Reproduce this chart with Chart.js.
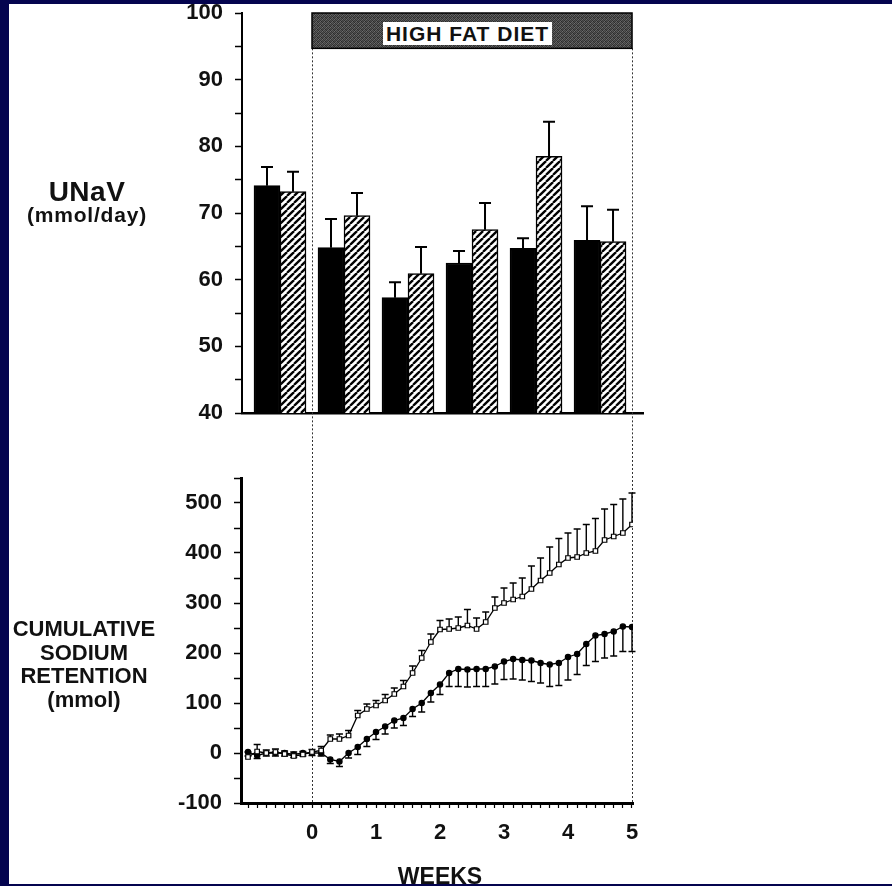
<!DOCTYPE html>
<html>
<head>
<meta charset="utf-8">
<script src="https://cdn.jsdelivr.net/npm/chart.js@4.4.1/dist/chart.umd.min.js"></script>
<style>
    body {
        margin: 0;
        width: 892px;
        height: 886px;
        overflow: hidden;
        position: relative;
        background: #04044f;
        font-family: "Liberation Sans", Arial, sans-serif;
        font-weight: bold;
        color: #111;
    }
    #panel { position: absolute; left: 9px; top: 4px; width: 883px; height: 880px; background: #fff; }
    canvas { position: absolute; left: 0; }
    .lbl { position: absolute; text-align: center; white-space: nowrap; }
    #bottomEdge { position: absolute; left: 0; top: 884px; width: 892px; height: 2px; background: #04044f; }
</style>
</head>
<body>
<div id="panel"></div>
<canvas id="unavChart" width="700" height="440" style="top:0"></canvas>
<canvas id="retentionChart" width="700" height="446" style="top:440px"></canvas>

<div class="lbl" style="left:383px;top:22px;width:169px;height:23px;line-height:23px;background:#fff;font-size:21px;letter-spacing:1px">HIGH FAT DIET</div>
<div class="lbl" style="left:22px;top:178px;width:130px;font-size:28px;line-height:28px;letter-spacing:0.5px">UNaV</div>
<div class="lbl" style="left:12px;top:204px;width:150px;font-size:21px;line-height:22px;letter-spacing:0.8px">(mmol/day)</div>
<div class="lbl" style="left:4px;top:617px;width:160px;font-size:22px;line-height:23.5px">CUMULATIVE<br>SODIUM<br>RETENTION<br>(mmol)</div>
<div class="lbl" style="left:380px;top:865px;width:120px;font-size:23px;line-height:23px">WEEKS</div>
<div id="bottomEdge"></div>

<script>
// ---- upper panel: weekly UNaV, bar centres in days (week midpoints)
const barDays = [-3.5, 3.5, 10.5, 17.5, 24.5, 31.5]
const unavSolid = [74.1, 64.8, 57.3, 62.5, 64.7, 65.9]
const unavSolidErr = [2.8, 4.3, 2.3, 1.8, 1.5, 5.1]
const unavHatched = [73.2, 69.6, 60.9, 67.5, 78.5, 65.7]
const unavHatchedErr = [3.0, 3.4, 4.0, 4.0, 5.2, 4.8]
const unavTickLabels = [40, 50, 60, 70, 80, 90, 100]

// ---- lower panel: cumulative sodium retention, one value per day
const days = [
    -7, -6, -5, -4, -3, -2, -1, 0,
    1, 2, 3, 4, 5, 6, 7, 8, 9, 10, 11, 12, 13, 14,
    15, 16, 17, 18, 19, 20, 21, 22, 23, 24, 25, 26, 27, 28,
    29, 30, 31, 32, 33, 34, 35,
]
const openRet = [
    -8, 3, 0, 2, -2, -6, -3, 2,
    5, 28, 28, 35, 75, 88, 95, 105, 118, 133, 160, 190, 222, 247,
    248, 250, 255, 248, 262, 290, 300, 307, 313, 328, 345, 360, 377, 390,
    392, 400, 404, 426, 433, 440, 457,
]
const openErr = [
    10, 14, 6, 6, 6, 8, 6, 5,
    8, 8, 10, 10, 10, 10, 10, 12, 12, 12, 14, 15, 16, 18,
    20, 22, 32, 22, 20, 22, 30, 33, 37, 46, 45, 52, 52, 50,
    56, 57, 65, 62, 64, 68, 63,
]
const filledRet = [
    2, -5, 0, 0, 0, -3, 0, 0,
    0, -13, -17, 0, 12, 28, 42, 53, 65, 70, 88, 100, 120, 137,
    160, 168, 167, 168, 168, 173, 183, 188, 186, 185, 180, 177, 180, 192,
    198, 218, 235, 238, 243, 253, 252,
]
const filledErr = [
    8, 6, 6, 6, 6, 6, 6, 5,
    6, 8, 10, 10, 15, 15, 15, 15, 15, 15, 15, 18, 18, 20,
    27, 35, 35, 35, 35, 35, 36, 40, 40, 42, 40, 44, 45, 46,
    41, 43, 52, 48, 49, 50, 49,
]
const retTickLabels = [-100, 0, 100, 200, 300, 400, 500]
const weekLabels = ["0", "1", "2", "3", "4", "5"]

// diet period (days) and the header band on the UNaV axis
const dietStart = 0
const dietEnd = 35
const bandBottom = 94.7

const FONT = { family: "'Liberation Sans', Arial, sans-serif", weight: "bold", size: 22 }

// diagonal hatch for the second bar series
const hatchPattern = () => {
    const c = document.createElement("canvas")
    c.width = c.height = 7
    const g = c.getContext("2d")
    g.fillStyle = "#fff"
    g.fillRect(0, 0, 7, 7)
    g.strokeStyle = "#000"
    g.lineWidth = 2.3
    for (let k = -1; k <= 1; k++) {
        g.beginPath()
        g.moveTo(k * 7, 7)
        g.lineTo(k * 7 + 7, 0)
        g.stroke()
    }
    return g.createPattern(c, "repeat")
}

// grey stipple for the "high fat diet" band
const stipplePattern = () => {
    const shades = [
        [50, 95, 60, 80],
        [105, 40, 75, 55],
        [65, 85, 45, 100],
        [90, 55, 110, 50],
    ]
    const c = document.createElement("canvas")
    c.width = c.height = 4
    const g = c.getContext("2d")
    shades.forEach((row, y) =>
        row.forEach((s, x) => {
            g.fillStyle = `rgb(${s},${s},${s})`
            g.fillRect(x, y, 1, 1)
        })
    )
    return g.createPattern(c, "repeat")
}

// one-sided error bars, drawn from each point along errDir
const errorBars = {
    id: "errorBars",
    beforeDatasetsDraw(chart) {
        const { ctx } = chart
        const yScale = chart.scales.y
        chart.data.datasets.forEach((ds, di) => {
            if (!ds.errors) return
            const meta = chart.getDatasetMeta(di)
            ctx.save()
            ctx.strokeStyle = "#000"
            ctx.lineWidth = ds.errWidth
            meta.data.forEach((el, i) => {
                const yEnd = yScale.getPixelForValue(ds.data[i].y + ds.errDir * ds.errors[i])
                ctx.beginPath()
                ctx.moveTo(el.x, el.y)
                ctx.lineTo(el.x, yEnd)
                ctx.moveTo(el.x - ds.capHalf, yEnd)
                ctx.lineTo(el.x + ds.capHalf, yEnd)
                ctx.stroke()
            })
            ctx.restore()
        })
    },
}

// dotted lines marking the diet period
const dietLines = (fromTop) => ({
    id: "dietLines",
    beforeDatasetsDraw(chart) {
        const { ctx, chartArea } = chart
        const x = chart.scales.x
        const y0 = fromTop ? 0 : chart.scales.y.getPixelForValue(bandBottom)
        const y1 = fromTop ? chartArea.bottom : chart.height
        ctx.save()
        ctx.strokeStyle = "#333"
        ctx.lineWidth = 1
        ctx.setLineDash([2, 2])
        ;[dietStart, dietEnd].forEach((d) => {
            const px = Math.round(x.getPixelForValue(d)) + 0.5
            ctx.beginPath()
            ctx.moveTo(px, y0)
            ctx.lineTo(px, y1)
            ctx.stroke()
        })
        ctx.restore()
    },
})

const dietBand = {
    id: "dietBand",
    afterDatasetsDraw(chart) {
        const { ctx } = chart
        const x0 = chart.scales.x.getPixelForValue(dietStart)
        const x1 = chart.scales.x.getPixelForValue(dietEnd)
        const y0 = chart.scales.y.getPixelForValue(100)
        const y1 = chart.scales.y.getPixelForValue(bandBottom)
        ctx.save()
        ctx.fillStyle = stipplePattern()
        ctx.fillRect(x0, y0, x1 - x0, y1 - y0)
        ctx.strokeStyle = "#000"
        ctx.lineWidth = 1.5
        ctx.strokeRect(x0, y0, x1 - x0, y1 - y0)
        ctx.restore()
    },
}

const axisY = (min, max, step, labels, width, borderWidth) => ({
    min,
    max,
    afterFit: (s) => {
        s.width = width
        // keep the plot box where the padding puts it
        s.paddingTop = 0
        s.paddingBottom = 0
    },
    border: { display: true, color: "#000", width: borderWidth },
    grid: { drawOnChartArea: false, drawTicks: true, tickLength: 7, tickColor: "#000", tickWidth: 1.5 },
    ticks: {
        stepSize: step,
        autoSkip: false,
        padding: 12,
        color: "#111",
        font: FONT,
        callback: (v) => (labels.includes(v) ? String(v) : ""),
    },
})

// ---------- upper chart: UNaV bars
new Chart(document.getElementById("unavChart"), {
    type: "bar",
    data: {
        datasets: [
            {
                data: barDays.map((d, i) => ({ x: d, y: unavSolid[i] })),
                backgroundColor: "#000",
                borderColor: "#000",
                borderWidth: 1.5,
                errors: unavSolidErr,
                errDir: 1,
                errWidth: 2,
                capHalf: 6,
            },
            {
                data: barDays.map((d, i) => ({ x: d, y: unavHatched[i] })),
                backgroundColor: hatchPattern(),
                borderColor: "#000",
                borderWidth: 1.5,
                errors: unavHatchedErr,
                errDir: 1,
                errWidth: 2,
                capHalf: 6,
            },
        ],
    },
    options: {
        responsive: false,
        animation: false,
        devicePixelRatio: 1,
        barThickness: 26,
        layout: { padding: { top: 13, right: 57, left: 0, bottom: 0 } },
        plugins: { legend: { display: false }, tooltip: { enabled: false } },
        scales: {
            x: {
                type: "linear",
                min: -7.656,
                max: 36.2,
                offset: false,
                afterFit: (s) => { s.height = 27 },
                border: { display: true, color: "#000", width: 2.5 },
                grid: { display: false, offset: false },
                ticks: { display: false },
            },
            y: axisY(40, 100, 5, unavTickLabels, 242, 2),
        },
    },
    plugins: [dietLines(false), errorBars, dietBand],
})

// ---------- lower chart: cumulative retention lines
new Chart(document.getElementById("retentionChart"), {
    type: "line",
    data: {
        datasets: [
            {
                data: days.map((d, i) => ({ x: d, y: openRet[i] })),
                borderColor: "#000",
                borderWidth: 1.3,
                pointStyle: "rect",
                pointRadius: 3.2,
                pointBackgroundColor: "#fff",
                pointBorderColor: "#000",
                pointBorderWidth: 1.2,
                errors: openErr,
                errDir: 1,
                errWidth: 1.4,
                capHalf: 3.5,
            },
            {
                data: days.map((d, i) => ({ x: d, y: filledRet[i] })),
                borderColor: "#000",
                borderWidth: 1.3,
                pointStyle: "circle",
                pointRadius: 2.6,
                pointBackgroundColor: "#000",
                pointBorderColor: "#000",
                errors: filledErr,
                errDir: -1,
                errWidth: 1.4,
                capHalf: 3.5,
            },
        ],
    },
    options: {
        responsive: false,
        animation: false,
        devicePixelRatio: 1,
        layout: { padding: { top: 38, right: 67, left: 0, bottom: 0 } },
        plugins: { legend: { display: false }, tooltip: { enabled: false } },
        scales: {
            x: {
                type: "linear",
                min: -7.766,
                max: 35.11,
                afterFit: (s) => { s.height = 83 },
                border: { display: true, color: "#000", width: 3 },
                grid: { drawOnChartArea: false, drawTicks: true, tickLength: 5, tickColor: "#000", tickWidth: 1.2 },
                ticks: {
                    stepSize: 1,
                    includeBounds: false,
                    autoSkip: false,
                    maxRotation: 0,
                    padding: 12,
                    color: "#111",
                    font: FONT,
                    callback: (v) => (v >= 0 && v % 7 === 0 ? weekLabels[v / 7] : ""),
                },
            },
            y: axisY(-100, 550, 50, retTickLabels, 241, 3),
        },
    },
    plugins: [dietLines(true), errorBars],
})
</script>
</body>
</html>
